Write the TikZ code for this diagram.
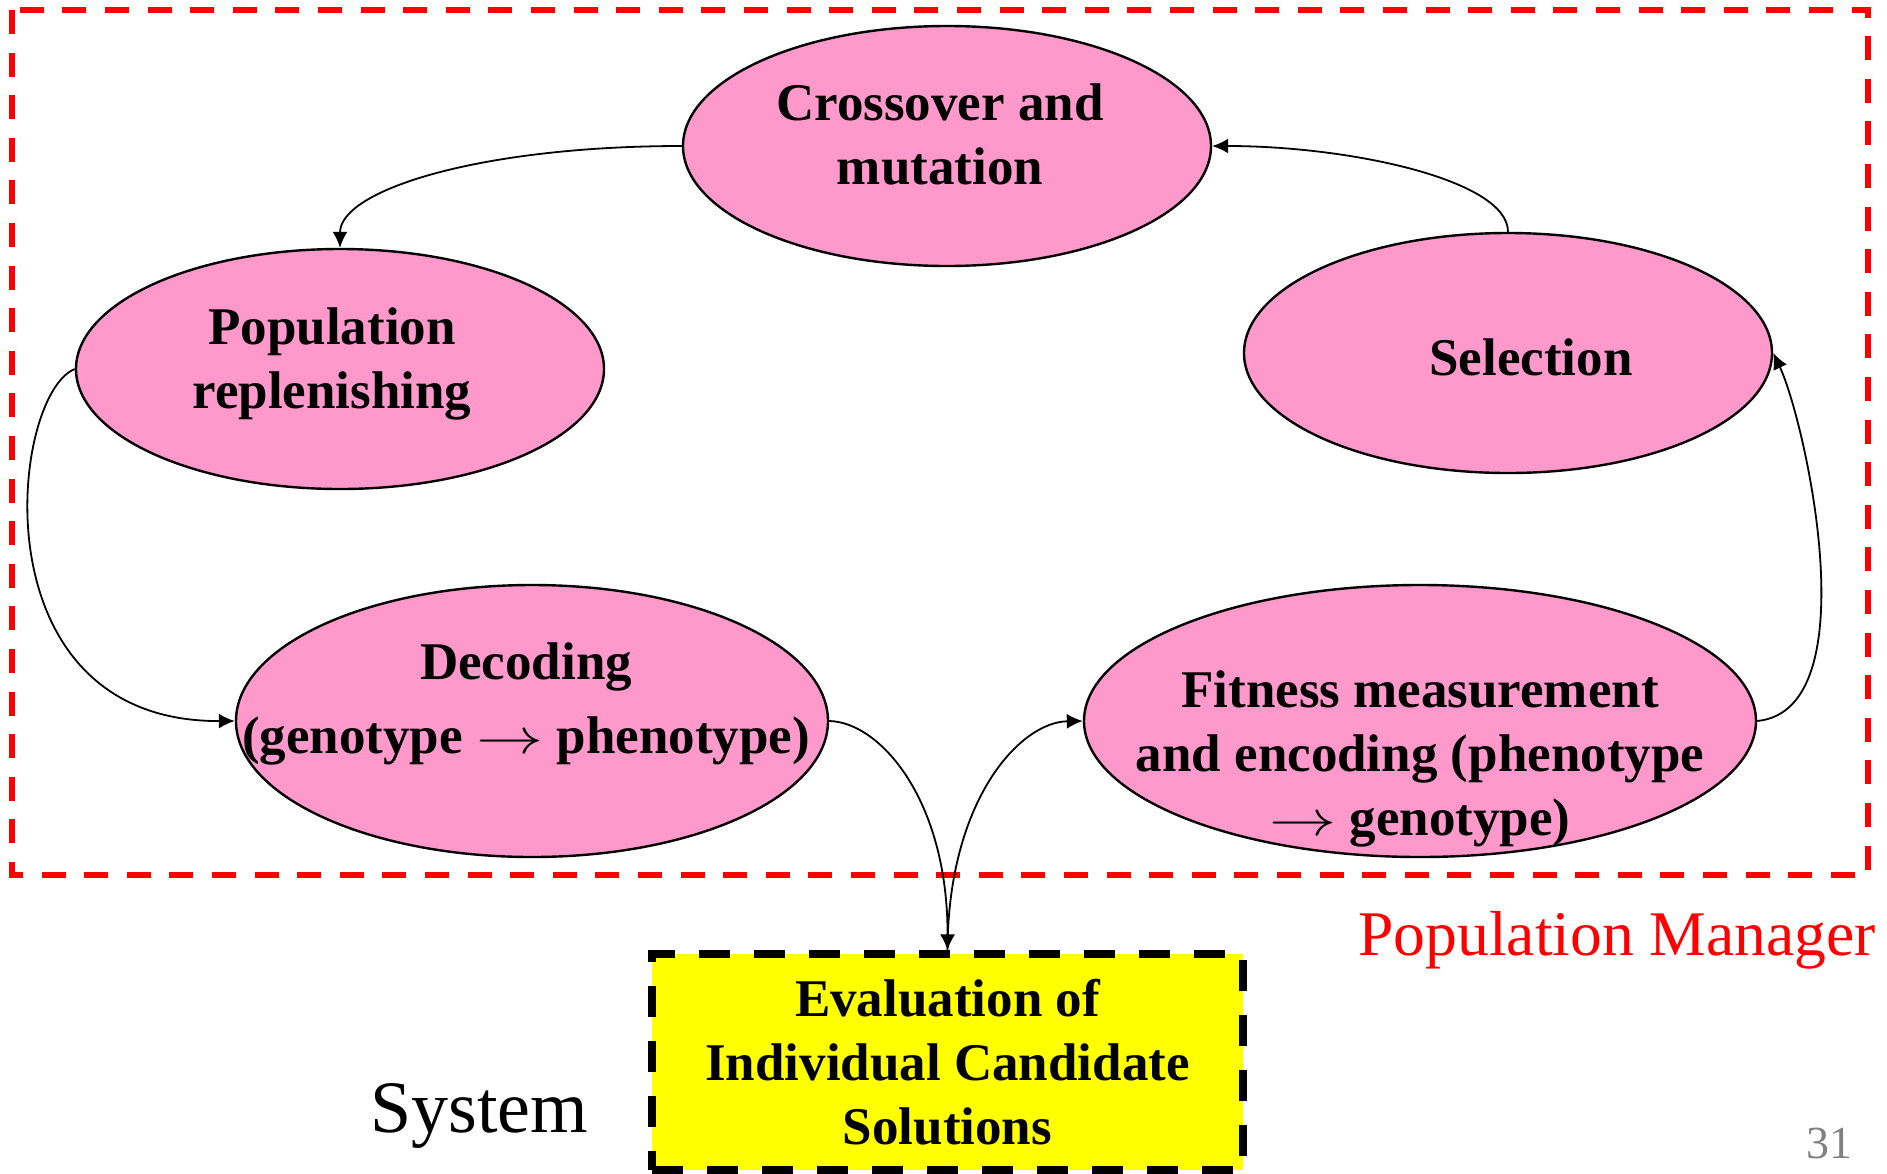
\documentclass[tikz,border=0pt]{standalone}
\usepackage{fontspec}
\usepackage{graphicx}
\setmainfont{Liberation Serif}
\usetikzlibrary{arrows.meta,shapes.geometric}
\definecolor{pinkfill}{RGB}{255,153,204}
\definecolor{pmred}{RGB}{255,0,0}
\definecolor{numgray}{RGB}{128,128,128}
\definecolor{evalyellow}{RGB}{255,255,0}
\newcommand{\gparrow}{\mbox{\fontsize{30}{32}\selectfont\scalebox{1.35}[1]{$\rightarrow$}}}
\begin{document}
\begin{tikzpicture}[x=0.5pt,y=-0.5pt,
  stage/.style={ellipse, draw=black, line width=1.2pt, fill=pinkfill, inner sep=0pt},
  stagetext/.style={font=\fontsize{26.5}{32}\selectfont\bfseries, align=center, inner sep=0pt},
  conn/.style={line width=0.9pt, -{Latex[length=8pt,width=7.5pt]}},
  pmframe/.style={draw=pmred, line width=2.8pt, dash pattern=on 12pt off 9.3pt},
  evalbox/.style={rectangle, draw=black, fill=evalyellow, line width=3.6pt, dash pattern=on 15.5pt off 12pt, inner sep=0pt, minimum width=295.5pt, minimum height=108pt, font=\fontsize{26.5}{32}\selectfont\bfseries, align=center},
]
\useasboundingbox (0,0) rectangle (1887,1174);

% population manager frame
\draw[pmframe] (12,10) rectangle (1868,875);

% stages
\node[stage, minimum width=264pt, minimum height=120pt] (cross) at (947,146) {};
\node[stage, minimum width=264pt, minimum height=120pt] (pop) at (340,369) {};
\node[stage, minimum width=264pt, minimum height=120pt] (sel) at (1508,353) {};
\node[stage, minimum width=296pt, minimum height=136pt] (dec) at (532,721) {};
\node[stage, minimum width=336pt, minimum height=136pt] (fit) at (1420,721) {};

\node[stagetext] (crossT) at (940,134) {Crossover and\\mutation};
\node[stagetext] (popT) at (332,364) {Population\\replenishing};
\node[stagetext] (selT) at (1531,357) {Selection};
\node[stagetext, font=\fontsize{26.5}{37}\selectfont\bfseries] (decT) at (526,704) {Decoding\\(genotype \gparrow{} phenotype)};
\node[stagetext] (fitT) at (1420,759) {Fitness measurement\\and encoding (phenotype\\\gparrow{} genotype)};

% evaluation box
\node[evalbox] (eval) at (947.5,1062) {Evaluation of\\Individual Candidate\\Solutions};

% labels
\node[font=\fontsize{31.8}{38}\selectfont, text=pmred, anchor=base west, inner sep=0pt] (pmlabel) at (1358,955) {Population Manager};
\node[font=\fontsize{37}{44}\selectfont, anchor=base west, inner sep=0pt] (syslabel) at (370,1132) {System};
\node[font=\fontsize{23}{28}\selectfont, text=numgray, anchor=base west, inner sep=0pt] (pagenum) at (1806,1158) {31};

% connectors
\draw[conn] (cross.west) .. controls (480,146) and (340,190) .. (pop.north);
\draw[conn] (sel.north) .. controls (1508,180) and (1350,146) .. (cross.east);
\draw[conn] (fit.east) .. controls (1870,710) and (1805,420) .. (sel.east);
\draw[conn] (pop.west) .. controls (10,395) and (-25,722) .. (dec.west);
\draw[conn] (dec.east) .. controls (880,722) and (948,800) .. (eval.north);
\draw[conn] (eval.north) .. controls (948,800) and (1020,722) .. (fit.west);
\end{tikzpicture}
\end{document}
